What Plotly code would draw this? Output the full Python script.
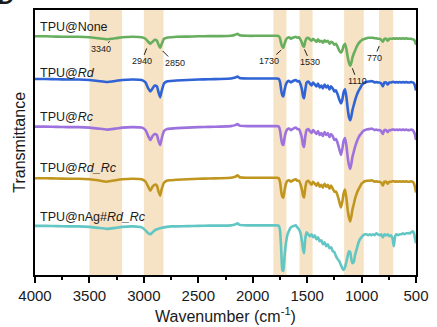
import plotly.graph_objects as go

# ---------------- data ----------------
wavenumber = [
    4000, 3900, 3800, 3700, 3600, 3500, 3420, 3340, 3260, 3200,
    3100, 3020, 2985, 2960, 2940, 2920, 2900, 2880, 2865, 2850,
    2835, 2815, 2790, 2750, 2700, 2600, 2500, 2400, 2300, 2200,
    2160, 2140, 2120, 2050, 1950, 1850, 1780, 1760,
    1748, 1738, 1728, 1718, 1708,
    1695, 1680, 1665, 1650, 1635,
    1620, 1605, 1590, 1575, 1560,
    1548, 1538, 1528, 1518, 1505,
    1490, 1475, 1460, 1445, 1430,
    1415, 1400, 1385, 1370, 1355,
    1340, 1325, 1310, 1295, 1280,
    1265, 1250, 1235, 1220, 1205,
    1190, 1178, 1165, 1152, 1140,
    1128, 1116, 1104, 1094, 1084,
    1072, 1060, 1045, 1030, 1015,
    1000, 985, 970, 955, 940,
    925, 910, 895, 880, 865,
    850, 835, 820, 805, 790,
    775, 760, 745, 730, 716,
    704, 692, 680, 665, 650,
    635, 620, 605, 590, 575,
    560, 545, 530, 518, 508,
    500,
]

# absorption depth below each spectrum's baseline (a.u.)
dip_none = [
    0.5, 0.5, 0.8, 1, 1, 1.5, 2.5, 3.5, 2.5, 1.5,
    1, 1.5, 3, 6, 8, 6, 4, 5, 9, 12,
    8, 3, 2, 1.5, 1, 0.8, 0.5, 0.3, 0.3, 0,
    -1, -2, -0.5, 0, 0, 0, 0, 0.5,
    3, 8, 11, 12, 8,
    4, 2, 1.5, 3, 2,
    1.5, 1, 2, 1.5, 4,
    7, 10, 11, 6, 2.5,
    2, 3.5, 5, 3, 4.5,
    6, 3.5, 6, 5, 7,
    4.5, 6, 5, 8, 6,
    7, 9, 8, 11, 15,
    17, 15, 10, 8, 13,
    21, 27, 30, 27, 22,
    18, 15, 11, 8, 6,
    4.5, 3.5, 3, 2.5, 2,
    2, 2, 2, 2.5, 2.5,
    3, 3, 4, 6, 3,
    3, 5, 3, 3, 3,
    2.5, 3, 2.5, 3, 2.5,
    3, 2.5, 3, 2.5, 3,
    3, 3, 3.5, 4, 6,
    9,
]

dip_rd = [
    0.5, 0.5, 0.8, 1, 1, 1.5, 2.5, 3.5, 2.5, 1.5,
    1, 1.5, 4, 10, 13, 10, 7, 8, 14, 19,
    12, 5, 3, 2.5, 2, 1.5, 1, 0.8, 0.5, 0,
    -1, -2, -0.5, 0, 0, 0, 0, 0.5,
    4, 12, 17, 18, 12,
    6, 3, 2.5, 4, 3,
    2, 1.5, 3, 2.5, 6,
    11, 18, 20, 12, 4,
    3, 5, 7, 4, 6,
    8, 5, 9, 7, 10,
    6, 9, 7, 11, 8,
    10, 13, 12, 16, 21,
    25, 22, 14, 11, 18,
    30, 39, 42, 38, 32,
    27, 22, 17, 13, 10,
    7, 5, 4, 3.5, 3,
    3, 2.5, 3, 4, 3.5,
    4, 4, 5, 8, 4,
    4, 6, 4, 4, 3.5,
    3.5, 4, 3.5, 4, 3.5,
    4, 3.5, 4, 3.5, 4,
    4, 3.5, 4, 5, 8,
    12,
]

dip_rc = [
    0.5, 0.5, 0.8, 1, 1, 1.5, 2.5, 3.5, 2.5, 1.5,
    1, 1.5, 4, 10, 14, 10, 8, 9, 15, 19,
    12, 5, 3, 2.5, 2, 1.5, 1, 0.8, 0.5, 0,
    -1, -2, -0.5, 0, 0, 0, 0, 0.5,
    5, 13, 18, 19, 12,
    6, 3, 2.5, 4, 3,
    2, 1.5, 3, 3, 7,
    12, 19, 21, 11, 4,
    3, 5, 7, 4, 6,
    8, 5, 9, 7, 10,
    6, 9, 7, 11, 8,
    10, 14, 13, 17, 23,
    29, 24, 15, 12, 19,
    31, 39, 43, 38, 31,
    26, 21, 16, 12, 9,
    7, 5, 4, 3.5, 3,
    3, 2.5, 3, 4, 3.5,
    4, 4, 5, 8, 4,
    4, 6, 4, 4, 3.5,
    3.5, 4, 3.5, 4, 3.5,
    4, 3.5, 4, 3.5, 4,
    4, 3.5, 4, 6, 9,
    14,
]

dip_rd_rc = [
    0.5, 0.5, 0.8, 1, 1, 1.5, 2.5, 4, 2.5, 1.5,
    1, 1.5, 4, 9, 13, 9, 7, 8, 14, 18,
    11, 5, 3, 2.5, 2, 1.5, 1, 0.8, 0.5, 0,
    -1, -2.5, -0.5, 0, 0, 0, 0, 0.5,
    5, 14, 19, 20, 13,
    6, 3, 2.5, 4, 3,
    2, 1.5, 3, 3, 7,
    12, 18, 20, 11, 4,
    3, 5, 7, 4, 6,
    8, 5, 9, 7, 10,
    6, 9, 7, 11, 8,
    11, 14, 14, 18, 24,
    30, 25, 16, 12, 20,
    32, 40, 44, 39, 32,
    27, 21, 16, 12, 9,
    6, 4.5, 3.5, 3, 3,
    3, 2.5, 3, 4, 3.5,
    4, 4, 5, 8, 4,
    4, 6, 4, 4, 3.5,
    3.5, 4, 3.5, 4, 3.5,
    4, 3.5, 4, 3.5, 4,
    4, 3.5, 4, 6, 10,
    15,
]

dip_nag = [
    0.5, 0.5, 0.8, 1, 1, 1.5, 2.5, 3.5, 2.5, 1.5,
    1, 2, 5, 8, 9, 7, 5, 4, 3.5, 3,
    2.5, 2, 1.5, 1, 1, 0.8, 0.5, 0.3, 0.3, 0,
    -1, -2, -0.5, 0, 0, 0, 0, 0.5,
    6, 25, 45, 46, 32,
    18, 9, 5, 2, 1,
    0.5, 0, 2, 4, 8,
    16, 24, 28, 14, 7,
    9, 11, 9, 12, 10,
    14, 12, 16, 15, 19,
    17, 21, 19, 23, 22,
    26, 27, 31, 34, 36,
    40, 43, 45, 42, 37,
    31, 26, 27, 34, 38,
    37, 30, 24, 18, 14,
    12, 10, 9, 9, 10,
    9, 10, 9, 10, 8,
    9, 10, 9, 12, 9,
    10, 9, 11, 10, 13,
    21, 11, 9, 10, 9,
    9, 8, 9, 8, 8,
    8, 7, 6, 8, 14,
    18,
]

series_names = ["TPU@None", "TPU@<i>Rd</i>", "TPU@<i>Rc</i>",
                "TPU@<i>Rd_Rc</i>", "TPU@nAg#<i>Rd_Rc</i>"]
series_dips = [dip_none, dip_rd, dip_rc, dip_rd_rc, dip_nag]
stack_offsets = [241, 198, 150, 98, 50]
label_lift = [9, 6, 9, 10, 8]
colors = ["#67AE5E", "#2F63D6", "#9E72DE", "#C0961F", "#62C6C4"]

band_lo = [3200, 2820, 1690, 1450, 980, 710]
band_hi = [3500, 3000, 1810, 1570, 1160, 840]
band_color = "#F6E2C4"

peak_labels = ["3340", "2940", "2850", "1730", "1530", "1110", "770"]
peak_tip_wn = [3313, 2974, 2827, 1738, 1525, 1085, 838]
peak_tip_drop = [5.5, 12.7, 15.3, 14.3, 13.7, 32.7, 10.3]
peak_ax = [-9, -5, 12, -12, 6, 5, -5]
peak_ay = [8, 13, 12, 11, 13, 13, 12]

x_ticks = [4000, 3500, 3000, 2500, 2000, 1500, 1000, 500]

FONT = "Liberation Sans, Arial, sans-serif"
TXT = "#1a1a1a"

# ---------------- figure ----------------
fig = go.Figure()

for lo, hi in zip(band_lo, band_hi):
    fig.add_vrect(x0=lo, x1=hi, fillcolor=band_color, opacity=1,
                  line_width=0, layer="below")

for name, dips, off, col in zip(series_names, series_dips, stack_offsets, colors):
    fig.add_trace(go.Scatter(
        x=wavenumber, y=[off - d for d in dips], mode="lines",
        line=dict(color=col, width=2.6, shape="spline", smoothing=0.4),
        name=name, showlegend=False, hoverinfo="skip"))

annotations = []
for name, off, lift in zip(series_names, stack_offsets, label_lift):
    annotations.append(dict(
        x=0.008, xref="paper", y=off + lift, yref="y", text=name,
        showarrow=False, xanchor="left", yanchor="middle",
        font=dict(family=FONT, size=12.5, color=TXT)))

for lab, wn, drop, ax, ay in zip(peak_labels, peak_tip_wn, peak_tip_drop, peak_ax, peak_ay):
    annotations.append(dict(
        x=wn, y=stack_offsets[0] - drop, xref="x", yref="y", text=lab,
        showarrow=True, arrowhead=0, arrowwidth=1, arrowcolor="#222",
        ax=ax, ay=ay, standoff=0,
        font=dict(family=FONT, size=9, color=TXT)))

annotations.append(dict(
    x=0.5, xref="paper", y=-0.152, yref="paper",
    text="Wavenumber (cm<sup>-1</sup>)", showarrow=False,
    xanchor="center", yanchor="middle",
    font=dict(family=FONT, size=16, color=TXT)))
annotations.append(dict(
    x=-0.04, xref="paper", y=0.502, yref="paper",
    text="Transmittance", textangle=-90, showarrow=False,
    xanchor="center", yanchor="middle",
    font=dict(family=FONT, size=16, color=TXT)))
annotations.append(dict(
    x=-0.075, xref="paper", y=1.05, yref="paper", text="<b>D</b>",
    showarrow=False, xanchor="center", yanchor="middle",
    font=dict(family=FONT, size=22, color=TXT)))

fig.update_layout(
    width=437, height=327,
    margin=dict(l=35, r=12, t=8, b=52),
    paper_bgcolor="white", plot_bgcolor="white",
    annotations=annotations,
    xaxis=dict(
        range=[4000, 500], tickvals=x_ticks,
        showline=True, mirror=True, linecolor="black", linewidth=1.5,
        ticks="outside", ticklen=6, tickwidth=1.5, tickcolor="black",
        minor=dict(ticks="outside", ticklen=3, tickwidth=1.5,
                   tickcolor="black", dtick=250, showgrid=False),
        showgrid=False, zeroline=False, ticklabeloverflow="allow",
        tickfont=dict(family=FONT, size=15, color=TXT)),
    yaxis=dict(
        range=[0, 267], showline=True, mirror=True, linecolor="black",
        linewidth=1.5, showticklabels=False, ticks="",
        showgrid=False, zeroline=False),
)

fig.write_html("out.html")
